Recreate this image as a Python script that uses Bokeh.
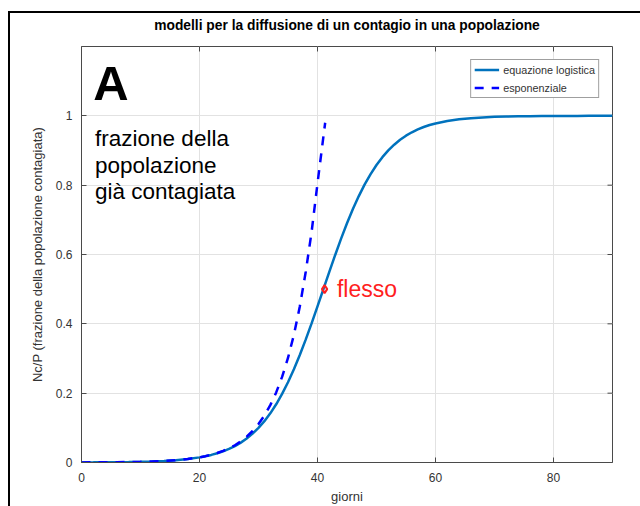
from bokeh.plotting import figure
from bokeh.models import FixedTicker, Range1d, Label, Legend, LegendItem
from bokeh.embed import file_html
from bokeh.resources import INLINE

# ---- data ----
days_log = [0, 2, 4, 6, 8, 10, 12, 14, 16, 18,
            20, 21, 22, 23, 24, 25, 26, 27, 28, 29,
            30, 31, 32, 33, 34, 35, 36, 37, 38, 39,
            40, 41, 42, 43, 44, 45, 46, 47, 48, 49,
            50, 51, 52, 53, 54, 55, 56, 57, 58, 59,
            60, 62, 64, 66, 68, 70, 72, 74, 76, 78,
            80, 82, 84, 86, 88, 90]
logistic = [0.0003, 0.0004, 0.0006, 0.0009, 0.0014, 0.0020, 0.0030, 0.0045, 0.0067, 0.0100,
            0.0148, 0.0180, 0.0219, 0.0266, 0.0323, 0.0392, 0.0474, 0.0573, 0.0691, 0.0832,
            0.0998, 0.1192, 0.1419, 0.1680, 0.1978, 0.2315, 0.2689, 0.3100, 0.3543, 0.4013,
            0.4502, 0.5000, 0.5498, 0.5987, 0.6457, 0.6900, 0.7311, 0.7685, 0.8022, 0.8320,
            0.8581, 0.8808, 0.9002, 0.9168, 0.9309, 0.9427, 0.9526, 0.9608, 0.9677, 0.9734,
            0.9781, 0.9852, 0.9900, 0.9933, 0.9955, 0.9970, 0.9980, 0.9986, 0.9991, 0.9994,
            0.9996, 0.9997, 0.9998, 0.9999, 0.9999, 0.9999]

days_exp = [0, 2, 4, 6, 8, 10, 12, 14, 16, 18,
            20, 21, 22, 23, 24, 25, 26, 27, 28, 29,
            30, 31, 32, 33, 34, 35, 36, 37, 38, 39,
            40, 41.3]
exponential = [0.0003, 0.0004, 0.0006, 0.0009, 0.0014, 0.0020, 0.0030, 0.0045, 0.0068, 0.0101,
               0.0150, 0.0183, 0.0224, 0.0274, 0.0334, 0.0408, 0.0498, 0.0609, 0.0744, 0.0908,
               0.1109, 0.1355, 0.1655, 0.2022, 0.2469, 0.3016, 0.3683, 0.4499, 0.5495, 0.6650,
               0.8050, 0.9800]

flex_x = [41.2]
flex_y = [0.5]

x_ticks = [0, 20, 40, 60, 80]
y_ticks = [0, 0.2, 0.4, 0.6, 0.8, 1]
y_tick_labels = {0: "0", 0.2: "0.2", 0.4: "0.4", 0.6: "0.6", 0.8: "0.8", 1: "1"}

title_text = "modelli per la diffusione di un contagio in una popolazione"
x_label = "giorni"
y_label = "Nc/P (frazione della popolazione contagiata)"
legend_labels = ["equazione logistica", "esponenziale"]
note_lines = ["frazione della", "popolazione", "già contagiata"]

FONT = "Liberation Sans"
FRAME = "#4a4a4a"
TXT = "#333333"
X0, X1, Y0, Y1 = 0, 90, 0, 1.2
FRAME_W, FRAME_H = 531, 417

# black window edge (top and left) drawn as inset shadows behind a transparent border
edge = ("inset 8px 0 0 0 #fff, inset 0 11px 0 0 #fff, "
        "inset 10px 0 0 0 #000, inset 0 13px 0 0 #000")

p = figure(width=640, height=506,
           x_range=Range1d(X0, X1), y_range=Range1d(Y0, Y1),
           output_backend="svg", toolbar_location=None,
           min_border_left=81, min_border_right=28,
           min_border_top=46, min_border_bottom=43,
           styles={"box-shadow": edge, "background-color": "#fff"})

p.title.text = title_text
p.title.align = "center"
p.title.text_font = FONT
p.title.text_font_size = "13.8px"
p.title.text_font_style = "bold"
p.title.text_color = "#000000"
p.title.standoff = 28

p.outline_line_color = FRAME
p.outline_line_width = 1
p.background_fill_color = "white"
p.border_fill_alpha = 0

for ax in (p.xaxis[0], p.yaxis[0]):
    ax.axis_line_color = FRAME
    ax.major_tick_line_color = FRAME
    ax.major_tick_in = 5
    ax.major_tick_out = 0
    ax.minor_tick_line_color = None
    ax.major_label_text_font = FONT
    ax.major_label_text_font_size = "12px"
    ax.major_label_text_color = TXT
    ax.axis_label_text_font = FONT
    ax.axis_label_text_font_size = "13px"
    ax.axis_label_text_font_style = "normal"
    ax.axis_label_text_color = TXT

p.xaxis.ticker = FixedTicker(ticks=x_ticks)
p.yaxis.ticker = FixedTicker(ticks=y_ticks)
p.yaxis.major_label_overrides = y_tick_labels
p.xaxis.axis_label = x_label
p.yaxis.axis_label = y_label
p.xaxis.major_label_standoff = 10
p.yaxis.major_label_standoff = 9
p.xaxis.axis_label_standoff = 4
p.yaxis.axis_label_standoff = 8

# inward ticks on the top and right sides of the box
tlx = (X1 - X0) * 5 / FRAME_W
tly = (Y1 - Y0) * 5 / FRAME_H
p.segment(x0=x_ticks, y0=[Y1] * len(x_ticks), x1=x_ticks, y1=[Y1 - tly] * len(x_ticks),
          line_color=FRAME, line_width=1)
p.segment(x0=[X1] * len(y_ticks), y0=y_ticks, x1=[X1 - tlx] * len(y_ticks), y1=y_ticks,
          line_color=FRAME, line_width=1)

p.xgrid.ticker = FixedTicker(ticks=x_ticks)
p.ygrid.ticker = FixedTicker(ticks=y_ticks)
p.grid.grid_line_color = "#e2e2e2"
p.grid.grid_line_width = 1

r_log = p.line(days_log, logistic, line_color="#0072BD", line_width=2.5)
r_exp = p.line(days_exp, exponential, line_color="#0000FF", line_width=2.5,
               line_dash="9 8")

p.scatter(flex_x, flex_y, marker="diamond", size=8, line_color="#FF2020",
          line_width=2, fill_color="#FF2020", fill_alpha=0.15)

p.add_layout(Label(x=43.3, y=0.50, text="flesso", text_color="#FF2020",
                   text_font=FONT, text_font_size="23px",
                   text_baseline="alphabetic", text_align="left"))

p.add_layout(Label(x=2.0, y=1.095, text="A", text_color="#000000",
                   text_font=FONT, text_font_size="49px", text_font_style="bold",
                   text_baseline="alphabetic", text_align="left"))

for line_text, yb in zip(note_lines, [0.934, 0.856, 0.782]):
    p.add_layout(Label(x=2.3, y=yb, text=line_text, text_color="#000000",
                       text_font=FONT, text_font_size="22.5px",
                       text_baseline="alphabetic", text_align="left"))

legend = Legend(items=[LegendItem(label=legend_labels[0], renderers=[r_log]),
                       LegendItem(label=legend_labels[1], renderers=[r_exp])],
                location="top_right")
legend.margin = 13
legend.padding = 3
legend.spacing = 5
legend.glyph_width = 25
legend.glyph_height = 13
legend.label_height = 13
legend.label_standoff = 4
legend.label_text_font = FONT
legend.label_text_font_size = "10.8px"
legend.label_text_color = TXT
legend.border_line_color = "#404040"
legend.border_line_width = 1
legend.background_fill_color = "white"
legend.background_fill_alpha = 1
p.add_layout(legend)

open("out.html", "w").write(file_html(p, INLINE))
